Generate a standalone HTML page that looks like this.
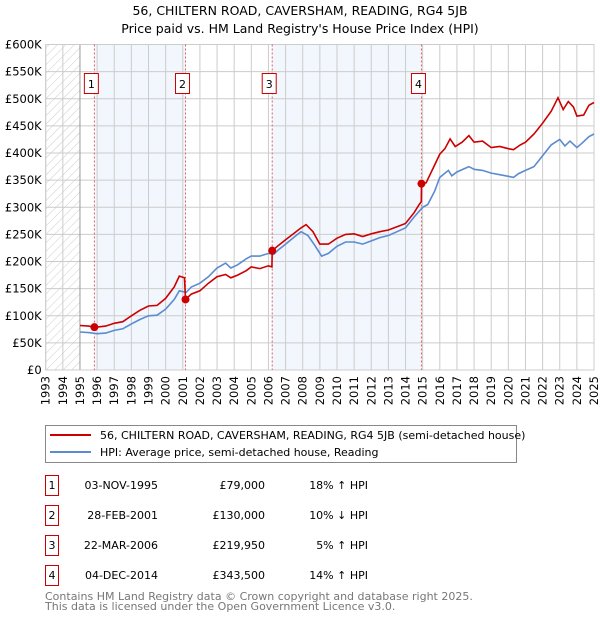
<!DOCTYPE html>
<html><head><meta charset="utf-8"><style>
body{margin:0;background:#fff;}
svg{display:block;font-family:"DejaVu Sans","Liberation Sans",sans-serif;}
</style></head><body>
<svg id="chart" width="600" height="620" viewBox="0 0 600 620">
<defs><pattern id="hatch" width="6" height="6" patternUnits="userSpaceOnUse" patternTransform="rotate(45)"><line x1="0" y1="0" x2="0" y2="6" stroke="#ccc" stroke-width="1"/></pattern></defs>
<text x="300" y="15" text-anchor="middle" font-size="12.5" fill="#000">56, CHILTERN ROAD, CAVERSHAM, READING, RG4 5JB</text>
<text x="300" y="33" text-anchor="middle" font-size="12.5" fill="#000">Price paid vs. HM Land Registry's House Price Index (HPI)</text>
<g id="bg"></g><g id="grid"></g><g id="axes"></g><g id="series"></g><g id="marks"></g>
<g>
<rect x="45.5" y="425.5" width="471" height="37" fill="#fff" stroke="#888"/>
<line x1="50" y1="435" x2="91" y2="435" stroke="#cc0000" stroke-width="2"/>
<text x="100" y="439" font-size="11">56, CHILTERN ROAD, CAVERSHAM, READING, RG4 5JB (semi-detached house)</text>
<line x1="50" y1="452" x2="91" y2="452" stroke="#5b8bd0" stroke-width="2"/>
<text x="100" y="456" font-size="11">HPI: Average price, semi-detached house, Reading</text>
</g>
<g id="table" font-size="11"></g>
<text x="45" y="600" font-size="11" fill="#777">Contains HM Land Registry data © Crown copyright and database right 2025.</text>
<text x="45" y="610" font-size="11" fill="#777">This data is licensed under the Open Government Licence v3.0.</text>
</svg>
<script>
const hpiDates=[1995.0,1995.5,1996,1996.5,1997,1997.5,1998,1998.5,1999,1999.5,2000,2000.5,2000.8,2001.2,2001.5,2002,2002.5,2003,2003.5,2003.8,2004.2,2004.7,2005,2005.5,2006,2006.3,2006.6,2007,2007.5,2007.9,2008.3,2008.7,2009.1,2009.5,2010,2010.5,2011,2011.5,2012,2012.5,2013,2013.5,2014,2014.5,2015,2015.3,2015.7,2016,2016.5,2016.7,2017,2017.7,2018,2018.5,2019,2019.5,2020,2020.3,2020.6,2021,2021.5,2022,2022.5,2023,2023.3,2023.6,2024,2024.3,2024.7,2025];
const hpiValues=[70,69,67,68,73,76,85,93,100,101,112,130,146,143,153,160,172,188,197,188,194,205,210,210,215,213,222,232,245,255,248,230,210,215,228,236,236,232,238,244,248,255,262,282,300,305,330,355,368,358,365,375,370,368,363,360,357,355,362,368,375,395,415,425,413,422,410,418,430,435];
const priceDates=[1995.0,1995.5,1995.84,1996,1996.5,1997,1997.5,1998,1998.5,1999,1999.5,2000,2000.5,2000.8,2001.1,2001.16,2001.5,2002,2002.5,2003,2003.5,2003.8,2004.2,2004.7,2005,2005.5,2006,2006.2,2006.22,2006.6,2007,2007.5,2007.9,2008.2,2008.6,2009,2009.5,2010,2010.5,2011,2011.5,2012,2012.5,2013,2013.5,2014,2014.5,2014.8,2014.92,2014.93,2015.2,2015.7,2016,2016.3,2016.6,2016.9,2017.3,2017.7,2018,2018.5,2019,2019.5,2020,2020.3,2020.7,2021,2021.5,2022,2022.5,2022.9,2023.2,2023.5,2023.8,2024,2024.4,2024.7,2025];
const priceValues=[82,81,79,79,81,86,89,100,110,118,119,132,153,173,170,130,140,146,160,172,176,170,175,183,190,187,192,190,220,230,240,252,262,268,255,232,232,243,250,251,246,251,255,258,264,270,290,305,310,343.5,345,378,398,408,426,412,420,432,420,422,410,412,408,406,415,420,435,455,477,502,480,495,485,468,470,488,493];
const saleDates=[1995.84,2001.16,2006.22,2014.93];
const salePrices=[79,130,219.95,343.5];
const saleLabels=["1","2","3","4"];
const saleDateText=["03-NOV-1995","28-FEB-2001","22-MAR-2006","04-DEC-2014"];
const salePriceText=["£79,000","£130,000","£219,950","£343,500"];
const saleHpiText=["18% ↑ HPI","10% ↓ HPI","5% ↑ HPI","14% ↑ HPI"];
const yTicks=[0,50,100,150,200,250,300,350,400,450,500,550,600];
const yTickLabels=["£0","£50K","£100K","£150K","£200K","£250K","£300K","£350K","£400K","£450K","£500K","£550K","£600K"];
const xYears=[1993,1994,1995,1996,1997,1998,1999,2000,2001,2002,2003,2004,2005,2006,2007,2008,2009,2010,2011,2012,2013,2014,2015,2016,2017,2018,2019,2020,2021,2022,2023,2024,2025];

const X0=45.7,X1=594,Y0=370,Y1=44.5;
const x=v=>X0+(v-1993)/(2025-1993)*(X1-X0);
const y=v=>Y0-(v/600)*(Y0-Y1);
const NS="http://www.w3.org/2000/svg";
function mk(tag,attrs,parent){const e=document.createElementNS(NS,tag);for(const k in attrs)e.setAttribute(k,attrs[k]);parent.appendChild(e);return e;}
const bg=document.getElementById('bg'),grid=document.getElementById('grid'),axes=document.getElementById('axes'),series=document.getElementById('series'),marks=document.getElementById('marks'),table=document.getElementById('table');

let r=mk('rect',{x:X0,y:Y1,width:x(1995)-X0,height:Y0-Y1,fill:'url(#hatch)'},bg);


for(const [a,b] of [[0,1],[2,3]]){
  const s=mk('rect',{x:x(saleDates[a]),y:Y1,width:x(saleDates[b])-x(saleDates[a]),height:Y0-Y1,fill:'#eef3fc',opacity:0.75},bg);
  
  
}
yTicks.forEach((t,i)=>{
  const l=mk('line',{x1:X0,x2:X1,y1:y(t),y2:y(t),stroke:'#cccccc','stroke-width':1},grid);
  
  
  const tx=mk('text',{x:X0-4,y:y(t)+4,'text-anchor':'end','font-size':11.5,fill:'#000'},axes);
  tx.textContent=yTickLabels[i];
  
  
});
xYears.forEach(yr=>{
  const l=mk('line',{x1:x(yr),x2:x(yr),y1:Y1,y2:Y0,stroke:yr===1995?'#999':'#cccccc','stroke-width':1},grid);
  
  
  const tx=mk('text',{x:0,y:0,'text-anchor':'end','font-size':11.5,fill:'#000',transform:`translate(${x(yr)+4},${Y0+6}) rotate(-90)`},axes);
  tx.textContent=yr;
  
  
});
let fr=mk('rect',{x:X0,y:Y1,width:X1-X0,height:Y0-Y1,fill:'none',stroke:'#cccccc'},grid);



saleDates.forEach((d,i)=>{
  const l=mk('line',{x1:x(d),x2:x(d),y1:Y1,y2:Y0,stroke:'#e06060','stroke-width':1,'stroke-dasharray':'2,2'},series);
  
  
});
function path(ds,vs){return ds.map((d,i)=>(i?'L':'M')+x(d).toFixed(1)+','+y(vs[i]).toFixed(1)).join('');}
let hp=mk('path',{d:path(hpiDates,hpiValues),fill:'none',stroke:'#5b8bd0','stroke-width':1.6},series);


let pp=mk('path',{d:path(priceDates,priceValues),fill:'none',stroke:'#cc0000','stroke-width':1.6},series);


saleDates.forEach((d,i)=>{
  const c=mk('circle',{cx:x(d),cy:y(salePrices[i]),r:4,fill:'#cc0000'},marks);
  
  
  const bx=x(d)-3;
  const b=mk('rect',{x:bx-7,y:73.5,width:14,height:20,fill:'#fff',stroke:'#cc0000'},marks);
  
  
  const t=mk('text',{x:bx,y:88,'text-anchor':'middle','font-size':11},marks);
  t.textContent=saleLabels[i];
  
  
  const ry=475+i*30;
  const tb=mk('rect',{x:45.5,y:ry+0.5,width:13,height:20,fill:'#fff',stroke:'#cc0000'},table);
  
  
  const cells=[[52,'middle',saleLabels[i],'table-row-number'],[158,'end',saleDateText[i],'table-sale-date'],[265,'end',salePriceText[i],'table-sale-price'],[368,'end',saleHpiText[i],'table-hpi-diff']];
  cells.forEach(c2=>{
    const tt=mk('text',{x:c2[0],y:ry+14,'text-anchor':c2[1],'font-size':11},table);
    tt.textContent=c2[2];
    
    
  });
});
</script>
</body></html>
